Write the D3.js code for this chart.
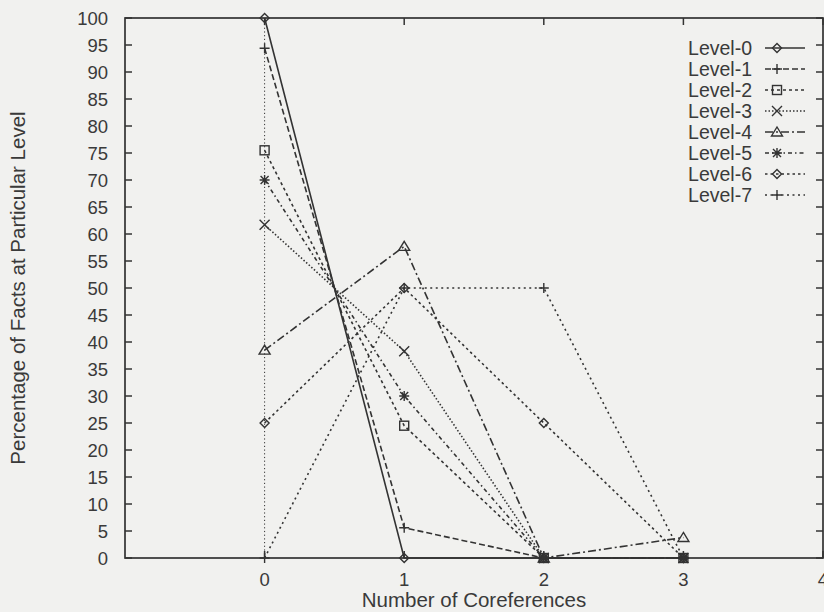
<!DOCTYPE html>
<html>
<head>
<meta charset="utf-8">
<script src="https://cdn.jsdelivr.net/npm/d3@7"></script>
<style>
  body { margin: 0; background: #f1f1ef; }
  text { font-family: "Liberation Sans", Arial, sans-serif; fill: #3a3a3a; }
</style>
</head>
<body>
<div id="canvas"></div>
<script>
let xValues = [0, 1, 2, 3]
let levelNames = ["Level-0", "Level-1", "Level-2", "Level-3", "Level-4", "Level-5", "Level-6", "Level-7"]
let level0 = [100, 0, 0, 0]
let level1 = [94.4, 5.6, 0, 0]
let level2 = [75.5, 24.5, 0, 0]
let level3 = [61.7, 38.3, 0, 0]
let level4 = [38.5, 57.7, 0, 3.8]
let level5 = [70, 30, 0, 0]
let level6 = [25, 50, 25, 0]
let level7 = [0, 50, 50, 0]
let xTicks = [0, 1, 2, 3, 4]
let yTicks = d3.range(0, 101, 5)

let levels = [level0, level1, level2, level3, level4, level5, level6, level7]
let dashes = ["", "6,3", "3,3", "1.5,2", "8,3,2,3", "4,3,1.5,3", "2.5,3", "2,3.5"]
let markers = ["diamond", "plus", "square", "cross", "triangle", "star", "diamond", "plus"]

let svg = {}
let x, y

window.onload = function () { setup() }

function setup() {
  svg = d3.select("#canvas").append("svg")
    .attr("width", 824)
    .attr("height", 612)

  x = d3.scaleLinear().domain([-1, 4]).range([125, 823])
  y = d3.scaleLinear().domain([0, 100]).range([558, 18])

  drawAxes()
  drawSeries()
  drawLegend()
}

function drawAxes() {
  let ink = "#333"

  // zero axis (dotted) at x = 0
  svg.append("line")
    .attr("x1", x(0)).attr("x2", x(0))
    .attr("y1", y(0)).attr("y2", y(100))
    .attr("stroke", ink).attr("stroke-width", 1)
    .attr("stroke-dasharray", "1.2,2.5")

  // y ticks, inward, mirrored
  yTicks.forEach(t => {
    svg.append("line").attr("x1", x(-1)).attr("x2", x(-1) + 7)
      .attr("y1", y(t)).attr("y2", y(t)).attr("stroke", ink).attr("stroke-width", 1.5)
    svg.append("line").attr("x1", x(4) - 7).attr("x2", x(4))
      .attr("y1", y(t)).attr("y2", y(t)).attr("stroke", ink).attr("stroke-width", 1.5)
    svg.append("text")
      .attr("x", 108).attr("y", y(t) + 6.5)
      .attr("text-anchor", "end")
      .attr("font-size", 18.5)
      .text(t)
  })

  xTicks.forEach(t => {
    svg.append("line").attr("x1", x(t)).attr("x2", x(t))
      .attr("y1", y(0)).attr("y2", y(0) - 7).attr("stroke", ink).attr("stroke-width", 1.5)
    svg.append("line").attr("x1", x(t)).attr("x2", x(t))
      .attr("y1", y(100)).attr("y2", y(100) + 7).attr("stroke", ink).attr("stroke-width", 1.5)
    svg.append("text")
      .attr("x", x(t)).attr("y", 586)
      .attr("text-anchor", "middle")
      .attr("font-size", 18.5)
      .text(t)
  })

  svg.append("rect")
    .attr("x", x(-1)).attr("y", y(100))
    .attr("width", x(4) - x(-1)).attr("height", y(0) - y(100))
    .attr("fill", "none").attr("stroke", ink).attr("stroke-width", 1.7)

  svg.append("text")
    .attr("x", (x(-1) + x(4)) / 2).attr("y", 607)
    .attr("text-anchor", "middle").attr("font-size", 20.5)
    .text("Number of Coreferences")

  svg.append("text")
    .attr("transform", "translate(25," + (y(50)) + ") rotate(-90)")
    .attr("text-anchor", "middle").attr("font-size", 20.5)
    .text("Percentage of Facts at Particular Level")
}

function drawMarker(g, type, cx, cy) {
  let ink = "#333"
  let m = g.append("g").attr("transform", "translate(" + cx + "," + cy + ")")
    .attr("stroke", ink).attr("stroke-width", 1.4).attr("fill", "none")
  if (type == "diamond") {
    m.append("path").attr("d", "M0,-4.5L4.5,0L0,4.5L-4.5,0Z")
  } else if (type == "plus") {
    m.append("path").attr("d", "M-5,0H5M0,-5V5")
  } else if (type == "square") {
    m.append("rect").attr("x", -4.5).attr("y", -4.5).attr("width", 9).attr("height", 9)
  } else if (type == "cross") {
    m.append("path").attr("d", "M-5,-5L5,5M-5,5L5,-5")
  } else if (type == "triangle") {
    m.append("path").attr("d", "M0,-5L5.5,4L-5.5,4Z")
  } else if (type == "star") {
    m.append("path").attr("d", "M-5,0H5M0,-5V5M-4,-4L4,4M-4,4L4,-4")
  }
}

function drawSeries() {
  let line = d3.line().x((d, i) => x(xValues[i])).y(d => y(d))
  levels.forEach((vals, k) => {
    let g = svg.append("g")
    g.append("path")
      .attr("d", line(vals))
      .attr("fill", "none")
      .attr("stroke", "#333")
      .attr("stroke-width", 1.6)
      .attr("stroke-dasharray", dashes[k])
    vals.forEach((v, i) => drawMarker(g, markers[k], x(xValues[i]), y(v)))
  })
}

function drawLegend() {
  levelNames.forEach((name, k) => {
    let ly = 48 + k * 21
    svg.append("text")
      .attr("x", 752).attr("y", ly + 7)
      .attr("text-anchor", "end").attr("font-size", 19.5)
      .text(name)
    let g = svg.append("g")
    g.append("line")
      .attr("x1", 765).attr("x2", 805)
      .attr("y1", ly).attr("y2", ly)
      .attr("stroke", "#333").attr("stroke-width", 1.5)
      .attr("stroke-dasharray", dashes[k])
    drawMarker(g, markers[k], 777, ly)
  })
}
</script>
</body>
</html>
